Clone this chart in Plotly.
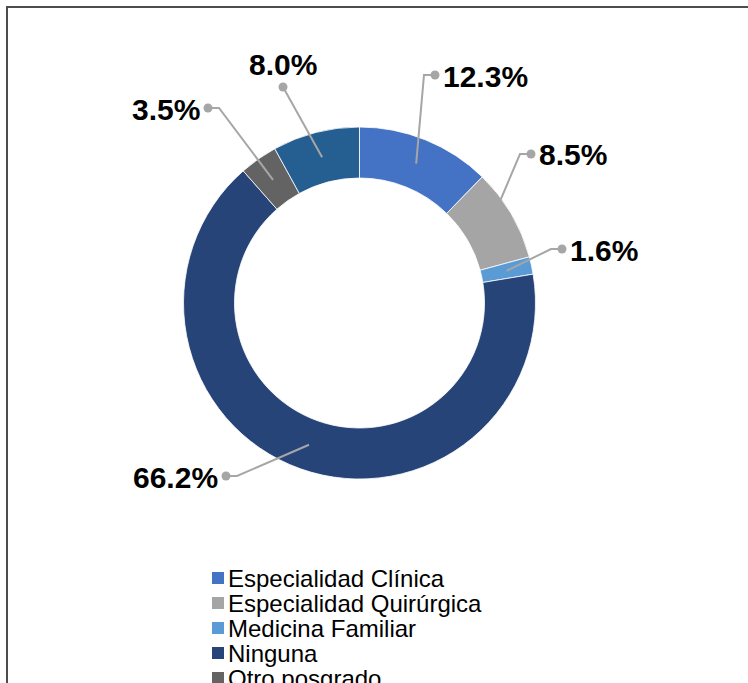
import math
import plotly.graph_objects as go

# data
categories = ["Especialidad Clínica", "Especialidad Quirúrgica", "Medicina Familiar",
              "Ninguna", "Otro posgrado", "Subespecialidad"]
values = [12.3, 8.5, 1.6, 66.2, 3.5, 8.0]
colors = ["#4472C4", "#A5A5A5", "#5B9BD5", "#264478", "#636363", "#255E91"]

# label layout (pixel positions of the leader dots, and side of label)
label_dots = [(435, 75), (531, 154), (562, 249), (226, 476), (208, 108), (283, 87)]
label_side = ["right", "right", "right", "left", "left", "top"]

W, H = 748, 683
cx, cy, R, R_in = 359.5, 303, 176, 125


def px(x):
    return x / W


def py(y):
    return 1 - y / H


fig = go.Figure()
fig.add_trace(go.Pie(
    labels=categories, values=values, sort=False, direction="clockwise", rotation=0,
    hole=R_in / R, textinfo="none", hoverinfo="label+percent",
    marker=dict(colors=colors, line=dict(color="white", width=0.8)),
    domain=dict(x=[px(cx - R), px(cx + R)], y=[py(cy + R), py(cy - R)]),
    showlegend=False,
))

shapes = []
annotations = []
total = sum(values)
cum = 0
r_mid = (R + R_in) / 2
lc = "#A6A6A6"
for v, (dx, dy), side in zip(values, label_dots, label_side):
    ang = (cum + v / 2) / total * 2 * math.pi
    cum += v
    sx = cx + r_mid * math.sin(ang)
    sy = cy - r_mid * math.cos(ang)
    if side == "right":
        pts = [(sx, sy), (dx - 11, dy), (dx, dy)]
    elif side == "left":
        pts = [(sx, sy), (dx + 11, dy), (dx, dy)]
    else:
        pts = [(sx, sy), (dx, dy)]
    path = "M " + " L ".join(f"{px(a)},{py(b)}" for a, b in pts)
    shapes.append(dict(type="path", path=path, xref="paper", yref="paper",
                       line=dict(color=lc, width=2), layer="above"))
    shapes.append(dict(type="circle", xref="paper", yref="paper",
                       x0=px(dx - 4.5), x1=px(dx + 4.5), y0=py(dy + 4.5), y1=py(dy - 4.5),
                       fillcolor=lc, line=dict(width=0), layer="above"))
    txt = f"<b>{v:.1f}%</b>"
    if side == "right":
        annotations.append(dict(x=px(dx + 6), y=py(dy + 1), text=txt, xanchor="left", yanchor="middle"))
    elif side == "left":
        annotations.append(dict(x=px(dx - 6), y=py(dy + 1), text=txt, xanchor="right", yanchor="middle"))
    else:
        annotations.append(dict(x=px(dx), y=py(dy - 4), text=txt, xanchor="center", yanchor="bottom"))
for a in annotations:
    a.update(xref="paper", yref="paper", showarrow=False,
             font=dict(family="Liberation Sans, Arial", size=30, color="black"))

# manual legend (the last entry falls below the visible area, as in the original)
for i, (name, col) in enumerate(zip(categories, colors)):
    yc = 578 + 25 * i
    shapes.append(dict(type="rect", xref="paper", yref="paper",
                       x0=px(212), x1=px(224), y0=py(yc + 6), y1=py(yc - 6),
                       fillcolor=col, line=dict(width=0)))
    annotations.append(dict(x=px(226), y=py(yc), text=name, xref="paper", yref="paper",
                            xanchor="left", yanchor="middle", showarrow=False,
                            font=dict(family="Liberation Sans, Arial", size=24, color="black")))

# chart frame
shapes.append(dict(type="path", xref="paper", yref="paper",
                   path=f"M {px(7)},{py(700)} L {px(7)},{py(7)} L {px(760)},{py(7)}",
                   line=dict(color="#4D4D4D", width=2)))

fig.update_layout(
    width=W, height=H, margin=dict(l=0, r=0, t=0, b=0),
    paper_bgcolor="white", plot_bgcolor="white",
    shapes=shapes, annotations=annotations,
)

fig.write_html("out.html", config={"displayModeBar": False},
               post_script="document.body.style.margin='0';")
